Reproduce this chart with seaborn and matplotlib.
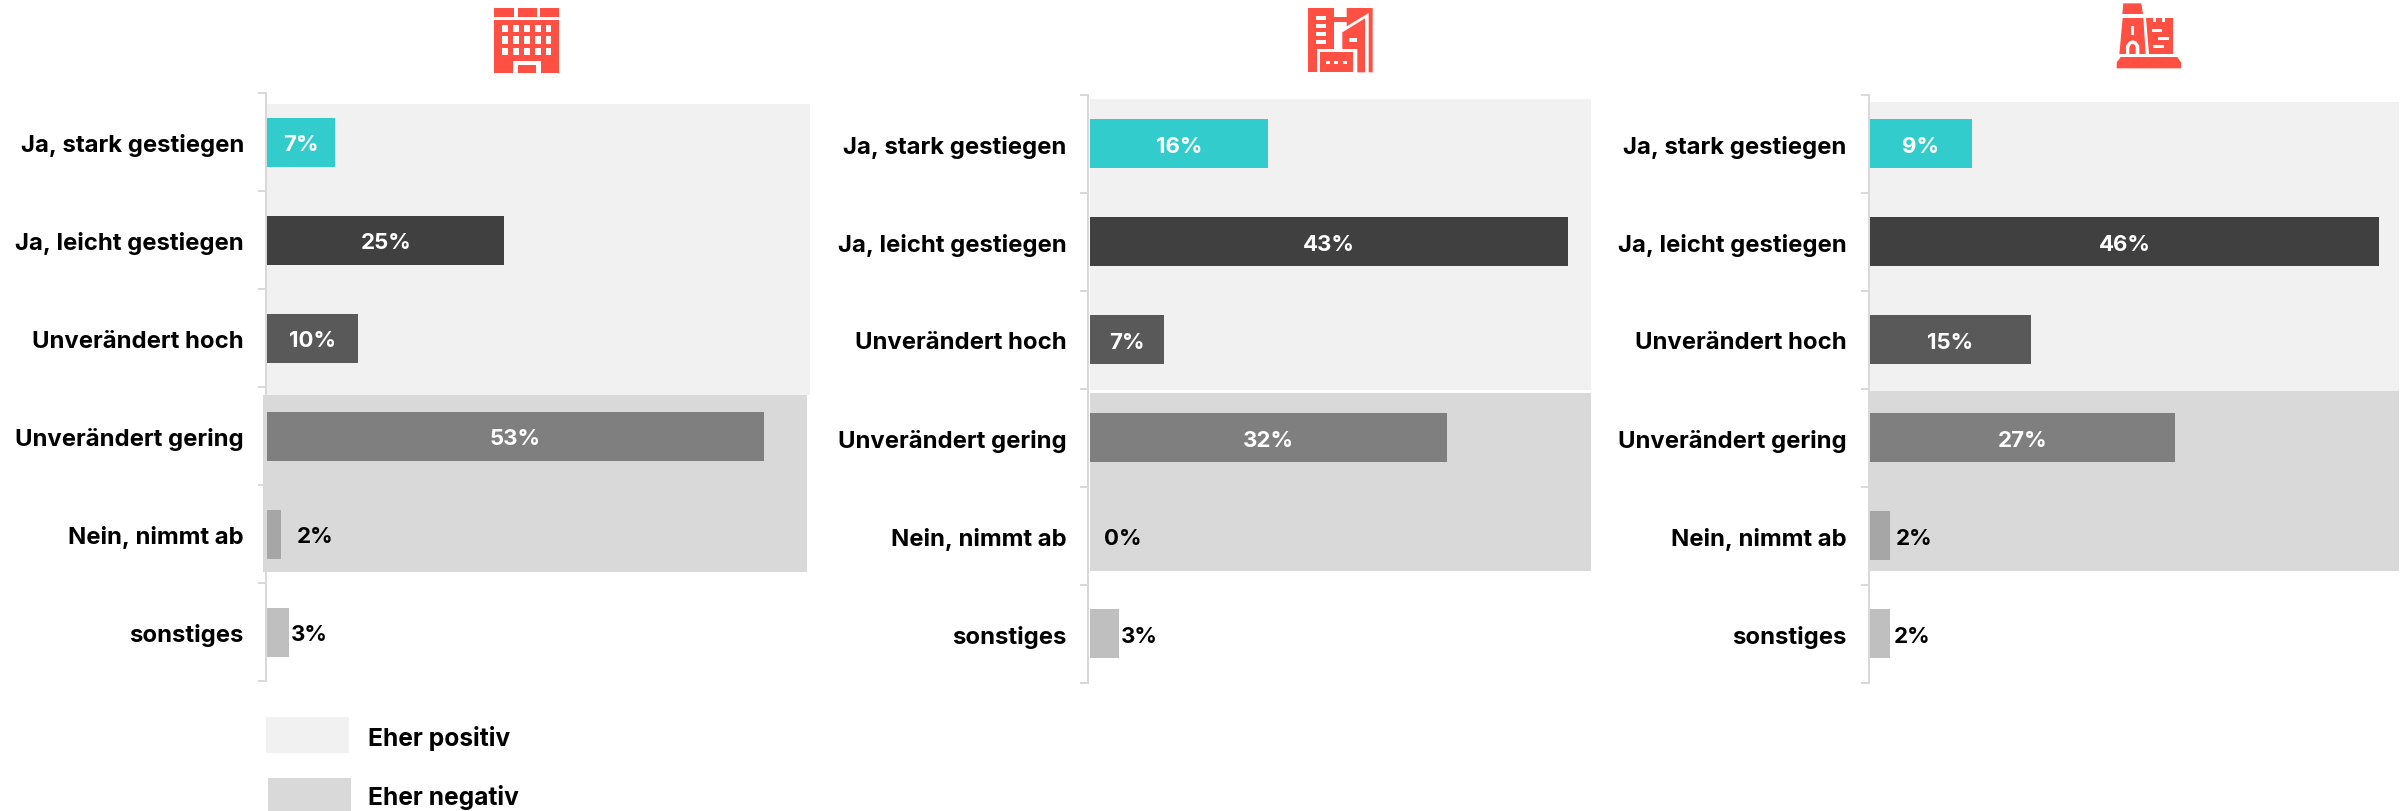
import matplotlib
matplotlib.use("Agg")
import matplotlib.pyplot as plt
from matplotlib.patches import Polygon, Rectangle
import numpy as np
import pandas as pd
import seaborn as sns

W, H = 2404, 812

categories = ["Ja, stark gestiegen", "Ja, leicht gestiegen", "Unverändert hoch",
              "Unverändert gering", "Nein, nimmt ab", "sonstiges"]
values_a = [7.2, 25.2, 9.7, 52.8, 1.45, 2.3]
values_b = [16.1, 43.1, 6.7, 32.2, 0.0, 2.64]
values_c = [9.15, 45.9, 14.5, 27.5, 1.8, 1.8]
labels_a = ["7%", "25%", "10%", "53%", "2%", "3%"]
labels_b = ["16%", "43%", "7%", "32%", "0%", "3%"]
labels_c = ["9%", "46%", "15%", "27%", "2%", "2%"]
bar_colors = ["#33CCCC", "#404040", "#595959", "#7F7F7F", "#A6A6A6", "#BFBFBF"]
legend_labels = ["Eher positiv", "Eher negativ"]
band_colors = ["#F1F1F1", "#D9D9D9"]
axis_color = "#D9D9D9"
icon_color = "#FF5043"

FONT = "Inter"
FS = 17.2
FS_VAL = 16
FS_LEG = 17.7

sns.set_theme(style="white")
plt.rcParams["font.family"] = [FONT, "DejaVu Sans"]

panels = [
    dict(vals=values_a, labs=labels_a, left=267.3, top=94.2, right=810, scale=9.4,
         pos=(267.3, 810, 105, 396), neg=(263, 807, 396, 572.7), off=(16, 2)),
    dict(vals=values_b, labs=labels_b, left=1089.7, top=95.6, right=1591, scale=11.1,
         pos=(1089.7, 1591, 99.7, 390.7), neg=(1089.7, 1591, 394, 571.7), off=(14, 2)),
    dict(vals=values_c, labs=labels_c, left=1870, top=95.6, right=2399, scale=11.1,
         pos=(1870, 2399, 103, 392), neg=(1868, 2399, 392, 572), off=(6, 4)),
]
STEP = 98

fig = plt.figure(figsize=(W / 100, H / 100), dpi=100, facecolor="white")
px = 72 / 100

for p in panels:
    L, T, R = p["left"], p["top"], p["right"]
    ax = fig.add_axes([L / W, 1 - (T + 6 * STEP) / H, (R - L) / W, 6 * STEP / H])
    ax.patch.set_alpha(0)
    df = pd.DataFrame({"cat": categories, "value": p["vals"]})
    sns.barplot(data=df, y="cat", x="value", hue="cat", order=categories,
                hue_order=categories, palette=bar_colors, dodge=False, legend=False,
                width=0.5, saturation=1, ax=ax, zorder=4, linewidth=0, edgecolor="none")
    ax.set_xlim(0, (R - L) / p["scale"])
    ax.set_ylim(5.5, -0.5)
    ax.set_xlabel("")
    ax.set_ylabel("")
    ax.xaxis.set_visible(False)
    for s in ("top", "right", "bottom"):
        ax.spines[s].set_visible(False)
    ax.spines["left"].set_color(axis_color)
    ax.spines["left"].set_linewidth(2 * px)
    ax.spines["left"].set_position(("outward", 1))

    ax.set_yticks(np.arange(-0.5, 6, 1))
    ax.set_yticklabels([])
    ax.set_yticks(range(6), labels=categories, minor=True)
    ax.tick_params(axis="y", which="major", left=True, length=8 * px, width=2 * px,
                   color=axis_color)
    ax.tick_params(axis="y", which="minor", left=False, length=0, pad=22 * px,
                   labelsize=FS, labelcolor="black")
    for t in ax.get_yticklabels(minor=True):
        t.set_fontweight("bold")

    # background bands (figure pixels mapped to axes fractions)
    to_x = lambda v: (v - L) / (R - L)
    to_y = lambda v: 1 - (v - T) / (6 * STEP)
    for (x0, x1, y0, y1), col, z in zip((p["pos"], p["neg"]), band_colors, (1, 3)):
        ax.add_patch(Rectangle((to_x(x0), to_y(y1)), to_x(x1) - to_x(x0), to_y(y0) - to_y(y1),
                               transform=ax.transAxes, facecolor=col, edgecolor="none",
                               zorder=z, clip_on=False))

    # value labels
    for i, (v, lab) in enumerate(zip(p["vals"], p["labs"])):
        if i < 4:
            ax.annotate(lab, (v / 2, i), ha="center", va="center_baseline", color="white",
                        fontsize=FS_VAL, fontweight="bold", zorder=5)
        else:
            ax.annotate(lab, (v, i), xytext=(p["off"][i - 4] * px, 0),
                        textcoords="offset points", ha="left", va="center_baseline", color="black",
                        fontsize=FS_VAL, fontweight="bold", zorder=5)

# overlay in reference pixel coordinates: legend key and icons
ov = fig.add_axes([0, 0, 1, 1], zorder=10)
ov.set_xlim(0, W)
ov.set_ylim(H, 0)
ov.axis("off")

for (x0, y0), col, lab, yc in zip(((266, 718), (268, 779)), band_colors, legend_labels, (736, 795)):
    ov.add_patch(Rectangle((x0, y0), 83, 36, facecolor=col, edgecolor="none"))
    ov.text(368, yc, lab, ha="left", va="center_baseline", fontsize=FS_LEG, fontweight="bold",
            color="black")


def shape(ox, oy, pts, color=icon_color):
    ov.add_patch(Polygon([(ox + x / 3, oy + y / 3) for x, y in pts], closed=True,
                         facecolor=color, edgecolor="none"))


def box(ox, oy, x0, y0, x1, y1, color=icon_color):
    shape(ox, oy, [(x0, y0), (x1, y0), (x1, y1), (x0, y1)], color)


# icon 1: office block
o = (470, 0)
for a, b in ((72, 132), (144, 202), (210, 268)):
    box(*o, a, 27, b, 54)
box(*o, 72, 62, 268, 222)
for a in (97, 130, 163, 196, 228):
    for b in (78, 112, 147):
        box(*o, a, b, a + 16, b + 22, "white")
box(*o, 130, 186, 212, 222, "white")
box(*o, 143, 198, 199, 222)

# icon 2: city buildings
o = (1300, 0)
shape(*o, [(24, 27), (103, 27), (103, 150), (50, 150), (50, 220), (24, 220)])
for b in (50, 74, 98, 122):
    box(*o, 48, b, 78, b + 12, "white")
box(*o, 60, 160, 160, 220)
for a in (78, 103, 130):
    box(*o, a, 185, a + 12, 196, "white")
box(*o, 103, 55, 140, 68)
shape(*o, [(140, 27), (218, 27), (218, 220), (206, 220), (206, 42), (140, 82)])
shape(*o, [(127, 100), (195, 58), (195, 220), (172, 220), (172, 150), (127, 150)])
box(*o, 148, 118, 170, 128, "white")

# icon 3: towers
o = (2100, 0)
shape(*o, [(70, 13), (124, 13), (129, 45), (67, 45)])
shape(*o, [(68, 57), (130, 57), (137, 165), (58, 165)])
box(*o, 93, 82, 103, 108, "white")
shape(*o, [(78, 165), (78, 140), (88, 127), (98, 124), (108, 127), (118, 140), (118, 165)], "white")
shape(*o, [(88, 165), (88, 145), (93, 136), (98, 135), (103, 136), (107, 145), (107, 165)])
shape(*o, [(138, 58), (158, 58), (158, 68), (168, 68), (168, 58), (185, 58), (185, 68),
           (194, 68), (194, 58), (218, 58), (218, 165), (146, 165)])
box(*o, 155, 90, 187, 100, "white")
box(*o, 175, 113, 207, 124, "white")
box(*o, 160, 137, 192, 148, "white")
shape(*o, [(50, 208), (50, 190), (62, 174), (232, 174), (243, 190), (243, 208)])

fig.savefig("out.png", dpi=100, facecolor="white")
